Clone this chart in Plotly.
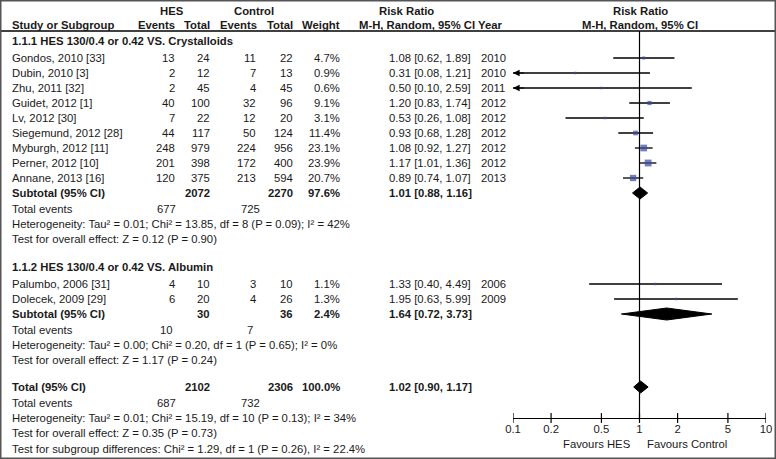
import numpy as np
import plotly.graph_objects as go

# study level data
studies = ["Gondos, 2010 [33]", "Dubin, 2010 [3]", "Zhu, 2011 [32]", "Guidet, 2012 [1]",
           "Lv, 2012 [30]", "Siegemund, 2012 [28]", "Myburgh, 2012 [11]", "Perner, 2012 [10]",
           "Annane, 2013 [16]", "Palumbo, 2006 [31]", "Dolecek, 2009 [29]"]
years = [2010, 2010, 2011, 2012, 2012, 2012, 2012, 2012, 2013, 2006, 2009]
group = [0, 0, 0, 0, 0, 0, 0, 0, 0, 1, 1]
hes_events = [13, 2, 2, 40, 7, 44, 248, 201, 120, 4, 6]
hes_total = [24, 12, 45, 100, 22, 117, 979, 398, 375, 10, 20]
ctl_events = [11, 7, 4, 32, 12, 50, 224, 172, 213, 3, 4]
ctl_total = [22, 13, 45, 96, 20, 124, 956, 400, 594, 10, 26]
weights = [4.7, 0.9, 0.6, 9.1, 3.1, 11.4, 23.1, 23.9, 20.7, 1.1, 1.3]
rr = [1.08, 0.31, 0.50, 1.20, 0.53, 0.93, 1.08, 1.17, 0.89, 1.33, 1.95]
rr_lo = [0.62, 0.08, 0.10, 0.83, 0.26, 0.68, 0.92, 1.01, 0.74, 0.40, 0.63]
rr_hi = [1.89, 1.21, 2.59, 1.74, 1.08, 1.28, 1.27, 1.36, 1.07, 4.49, 5.99]

# subgroup / overall results
sections = ["1.1.1 HES 130/0.4 or 0.42 VS. Crystalloids", "1.1.2 HES 130/0.4 or 0.42 VS. Albumin"]
pooled_labels = ["Subtotal (95% CI)", "Subtotal (95% CI)", "Total (95% CI)"]
pooled_hes_total = [2072, 30, 2102]
pooled_ctl_total = [2270, 36, 2306]
pooled_weight = [97.6, 2.4, 100.0]
pooled_hes_events = [677, 10, 687]
pooled_ctl_events = [725, 7, 732]
pooled_rr = [1.01, 1.64, 1.02]
pooled_lo = [0.88, 0.72, 0.90]
pooled_hi = [1.16, 3.73, 1.17]
heterogeneity = ["Heterogeneity: Tau² = 0.01; Chi² = 13.85, df = 8 (P = 0.09); I² = 42%",
                 "Heterogeneity: Tau² = 0.00; Chi² = 0.20, df = 1 (P = 0.65); I² = 0%",
                 "Heterogeneity: Tau² = 0.01; Chi² = 15.19, df = 10 (P = 0.13); I² = 34%"]
overall_effect = ["Test for overall effect: Z = 0.12 (P = 0.90)",
                  "Test for overall effect: Z = 1.17 (P = 0.24)",
                  "Test for overall effect: Z = 0.35 (P = 0.73)"]
subgroup_test = "Test for subgroup differences: Chi² = 1.29, df = 1 (P = 0.26), I² = 22.4%"
axis_ticks = [0.1, 0.2, 0.5, 1, 2, 5, 10]
axis_labels = ["0.1", "0.2", "0.5", "1", "2", "5", "10"]

W, H = 776, 459
FONT = "Liberation Sans, Arial, sans-serif"
FS = 11.3
TXT = "#1a1a1a"
SQ = "#3a4a9c"

# vertical layout (pixel rows)
row_step = 15
y = 41
section_y, study_y, pooled_y, events_y, het_y, eff_y = [], [], [], [], [], []
for g in range(2):
    if g == 1:
        y += 28
    section_y.append(y)
    y += 17
    for i in [k for k in range(len(studies)) if group[k] == g]:
        study_y.append(y)
        y += row_step
    pooled_y.append(y)
    y += 16
    events_y.append(y)
    het_y.append(y + row_step)
    eff_y.append(y + 2 * row_step)
    y += 2 * row_step
y += 27
pooled_y.append(y)
y += 16
events_y.append(y)
het_y.append(y + row_step)
eff_y.append(y + 2 * row_step)
subgroup_y = y + 3 * row_step + 1
header_line_y = 31
axis_y = 418

fig = go.Figure()

annotations = []


def txt(x, yy, s, anchor="left", bold=False, size=FS):
    annotations.append(dict(x=x, y=yy, xref="x", yref="y", text=f"<b>{s}</b>" if bold else s,
                            showarrow=False, xanchor=anchor, yanchor="middle",
                            font=dict(family=FONT, size=size, color=TXT)))


# headers
txt(172, 11, "HES", "center", True)
txt(254, 11, "Control", "center", True)
txt(406, 11, "Risk Ratio", "center", True)
txt(640, 11, "Risk Ratio", "center", True)
txt(10, 25, "Study or Subgroup", bold=True)
txt(177, 25, "Events", "right", True)
txt(212, 25, "Total", "right", True)
txt(259, 25, "Events", "right", True)
txt(295, 25, "Total", "right", True)
txt(342, 25, "Weight", "right", True)
txt(357, 25, "M-H, Random, 95% CI Year", bold=True)
txt(640, 25, "M-H, Random, 95% CI", "center", True)

for g, s in enumerate(sections):
    txt(10, section_y[g], s, bold=True)

for i, s in enumerate(studies):
    yy = study_y[i]
    txt(10, yy, s)
    txt(177, yy, str(hes_events[i]), "right")
    txt(212, yy, str(hes_total[i]), "right")
    txt(258, yy, str(ctl_events[i]), "right")
    txt(295, yy, str(ctl_total[i]), "right")
    txt(342, yy, f"{weights[i]:.1f}%", "right")
    txt(387, yy, f"{rr[i]:.2f} [{rr_lo[i]:.2f}, {rr_hi[i]:.2f}]")
    txt(479, yy, str(years[i]))

for j, lab in enumerate(pooled_labels):
    yy = pooled_y[j]
    txt(10, yy, lab, bold=True)
    txt(212, yy, str(pooled_hes_total[j]), "right", True)
    txt(295, yy, str(pooled_ctl_total[j]), "right", True)
    txt(342, yy, f"{pooled_weight[j]:.1f}%", "right", True)
    txt(387, yy, f"{pooled_rr[j]:.2f} [{pooled_lo[j]:.2f}, {pooled_hi[j]:.2f}]", bold=True)
    txt(10, events_y[j], "Total events")
    txt(166, events_y[j], str(pooled_hes_events[j]), "center")
    txt(250, events_y[j], str(pooled_ctl_events[j]), "center")
    txt(10, het_y[j], heterogeneity[j])
    txt(10, eff_y[j], overall_effect[j])
txt(10, subgroup_y, subgroup_test)

# vertical no-effect line
fig.add_trace(go.Scatter(x=[1, 1], y=[header_line_y, axis_y], xaxis="x2", yaxis="y", mode="lines",
                         line=dict(color="black", width=1.2), hoverinfo="skip"))

# confidence intervals and squares
for i in range(len(studies)):
    lo = max(rr_lo[i], 0.1)
    fig.add_trace(go.Scatter(x=[lo, rr_hi[i]], y=[study_y[i], study_y[i]], xaxis="x2", yaxis="y",
                             mode="lines", line=dict(color="black", width=1.3), hoverinfo="skip"))
    if rr_lo[i] <= 0.1:
        annotations.append(dict(x=-1, y=study_y[i], xref="x2", yref="y", ax=-0.9, ay=study_y[i],
                                axref="x2", ayref="y", showarrow=True, arrowhead=2, arrowsize=1.1,
                                arrowwidth=1.2, arrowcolor="black", text=""))
sizes = [max(2.5, 14 * np.sqrt(w / 100)) for w in weights]
fig.add_trace(go.Scatter(x=rr, y=study_y, xaxis="x2", yaxis="y", mode="markers",
                         marker=dict(symbol="square", size=sizes, color=SQ, line=dict(width=0)),
                         hoverinfo="skip"))

# diamonds
for j in range(3):
    yy = pooled_y[j]
    h = 6
    fig.add_trace(go.Scatter(x=[pooled_lo[j], pooled_rr[j], pooled_hi[j], pooled_rr[j], pooled_lo[j]],
                             y=[yy, yy - h, yy, yy + h, yy], xaxis="x2", yaxis="y", mode="lines",
                             fill="toself", fillcolor="black", line=dict(color="black", width=1),
                             hoverinfo="skip"))

# tick marks crossing the axis line
fig.add_trace(go.Scatter(x=axis_ticks, y=[axis_y] * len(axis_ticks), xaxis="x2", yaxis="y",
                         mode="markers", marker=dict(symbol="line-ns", size=7,
                                                     line=dict(color="black", width=1.2)),
                         hoverinfo="skip"))

annotations.append(dict(x=0, y=444, xref="x2", yref="y", text="Favours HES", showarrow=False,
                        xanchor="right", xshift=-7, font=dict(family=FONT, size=FS, color=TXT)))
annotations.append(dict(x=0, y=444, xref="x2", yref="y", text="Favours Control", showarrow=False,
                        xanchor="left", xshift=5, font=dict(family=FONT, size=FS, color=TXT)))

fig.update_layout(
    width=W, height=H,
    margin=dict(l=0, r=0, t=0, b=0, autoexpand=False),
    paper_bgcolor="white", plot_bgcolor="white",
    showlegend=False,
    xaxis=dict(range=[0, W], domain=[0, 1], visible=False, fixedrange=True),
    yaxis=dict(range=[H, 0], domain=[0, 1], visible=False, fixedrange=True),
    xaxis2=dict(type="log", range=[-1, 1], domain=[513 / W, 766 / W], anchor="free",
                position=(H - axis_y) / H, showline=True, linecolor="black", automargin=False,
                linewidth=1.2, ticks="", tickvals=axis_ticks, ticktext=axis_labels, fixedrange=True,
                showgrid=False, zeroline=False, tickfont=dict(family=FONT, size=FS, color=TXT)),
    annotations=annotations,
    shapes=[
        dict(type="line", xref="paper", yref="y", x0=0, x1=1, y0=header_line_y, y1=header_line_y,
             line=dict(color="black", width=1.5)),
        dict(type="rect", xref="paper", yref="paper", x0=0, x1=1, y0=0, y1=1,
             line=dict(color="#555555", width=3)),
    ],
)

# the page body has a default 8px margin; remove it so the figure fills the window
fig.write_html("out.html", config={"displayModeBar": False},
               post_script="document.body.style.margin = '0px';")
